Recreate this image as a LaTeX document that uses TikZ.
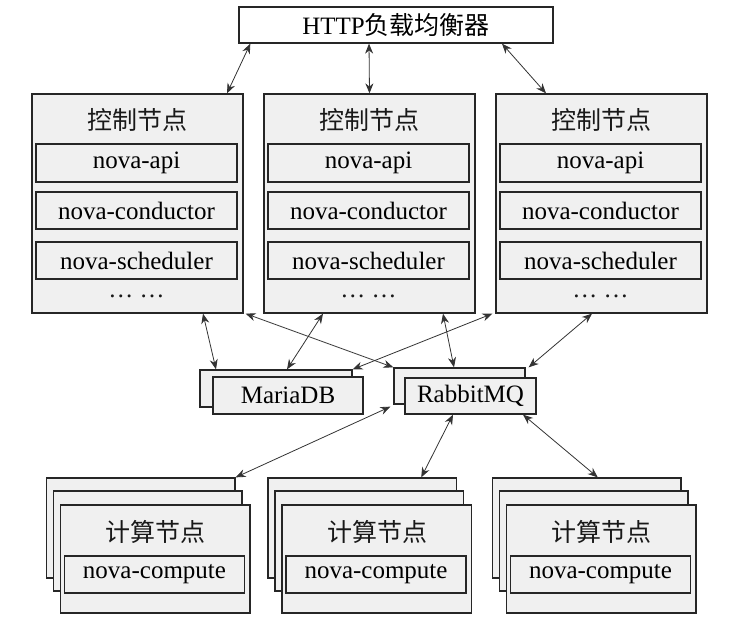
\documentclass[tikz,border=0pt]{standalone}
\usepackage{fontspec}
\setmainfont{Liberation Serif}
\newfontfamily\cjk{Noto Sans CJK SC}
\usetikzlibrary{arrows.meta,calc}
\begin{document}
\begin{tikzpicture}[x=1pt,y=-1pt,
  box/.style={draw=black!85,line width=1.3pt,fill=gray!12,inner sep=0pt,anchor=center},
  plain/.style={draw=black!85,line width=1.3pt,fill=white,inner sep=0pt,anchor=center},
  txt/.style={inner sep=0pt,anchor=center,text=black!90},
  arr/.style={{Stealth[length=10pt,width=8pt]}-{Stealth[length=10pt,width=8pt]},line width=0.8pt,draw=black!80},
  font=\fontsize{25}{28}\selectfont]
\useasboundingbox (0,0) rectangle (730,617);
% HTTP load balancer
\node[plain,minimum width=314pt,minimum height=36pt] (http) at (396,25) {HTTP{\cjk 负载均衡器}};
% control nodes
\foreach \i/\x in {1/137.5,2/369.5,3/601.5}{
  \node[box,minimum width=211pt,minimum height=219pt] (ctrl\i) at (\x,203.5) {};
  \node[txt] (ct\i) at (\x,120) {\cjk 控制节点};
  \node[box,minimum width=201pt,minimum height=38pt] (api\i) at (\x-1,163) {nova-api};
  \node[box,minimum width=201pt,minimum height=37pt] (cond\i) at (\x-1,210.5) {nova-conductor};
  \node[box,minimum width=201pt,minimum height=37pt] (sch\i) at (\x-1,260.5) {nova-scheduler};
  \node[txt] (dots\i) at (\x-1,296) {… …};
}
% MariaDB and RabbitMQ
\node[box,minimum width=152pt,minimum height=37pt] (mback) at (276,388.5) {};
\node[box,minimum width=150pt,minimum height=37pt] (mfront) at (288,395.5) {MariaDB};
\node[box,minimum width=131pt,minimum height=36pt] (rback) at (459.5,386) {};
\node[box,minimum width=131pt,minimum height=36pt] (rfront) at (470.5,396) {RabbitMQ};
% compute nodes
\foreach \i/\x in {1/60.5,2/282,3/506.5}{
  \node[box,minimum width=188.5pt,minimum height=100pt] (cback\i) at (\x-14+94.25,528) {};
  \node[box,minimum width=188.5pt,minimum height=100pt] (cmid\i) at (\x-7+94.25,541) {};
  \node[box,minimum width=189.5pt,minimum height=108pt] (cfront\i) at (\x+94.75,559) {};
  \node[txt] (cpt\i) at (\x+95,532) {\cjk 计算节点};
  \node[box,minimum width=180pt,minimum height=37pt] (comp\i) at (\x+94,574.5) {nova-compute};
}
% arrows HTTP - control
\draw[arr] ([xshift=12pt]http.south west) -- ([xshift=89.5pt]ctrl1.north);
\draw[arr] ([xshift=-27pt]http.south) -- (ctrl2.north);
\draw[arr] ([xshift=106pt]http.south) -- ([xshift=-55.5pt]ctrl3.north);
% arrows control - DB/MQ
\draw[arr] ([xshift=65.5pt]ctrl1.south) -- ([xshift=-60pt]mback.north);
\draw[arr] ([xshift=2pt]ctrl1.south east) -- (rback.north west);
\draw[arr] ([xshift=-46.5pt]ctrl2.south) -- ([xshift=11pt]mback.north);
\draw[arr] ([xshift=73.5pt]ctrl2.south) -- ([xshift=-5.5pt]rback.north);
\draw[arr] ([xshift=-3pt]ctrl3.south west) -- (mback.north east);
\draw[arr] ([xshift=-9.5pt]ctrl3.south) -- ([xshift=3pt]rback.north east);
% arrows MQ - compute
\draw[arr] ([xshift=-3pt,yshift=-2pt]rback.south west) -- (cback1.north east);
\draw[arr] ([xshift=-17.5pt]rfront.south) -- ([xshift=59pt]cback2.north);
\draw[arr] ([xshift=52.5pt]rfront.south) -- ([xshift=11pt]cback3.north);
\end{tikzpicture}
\end{document}
